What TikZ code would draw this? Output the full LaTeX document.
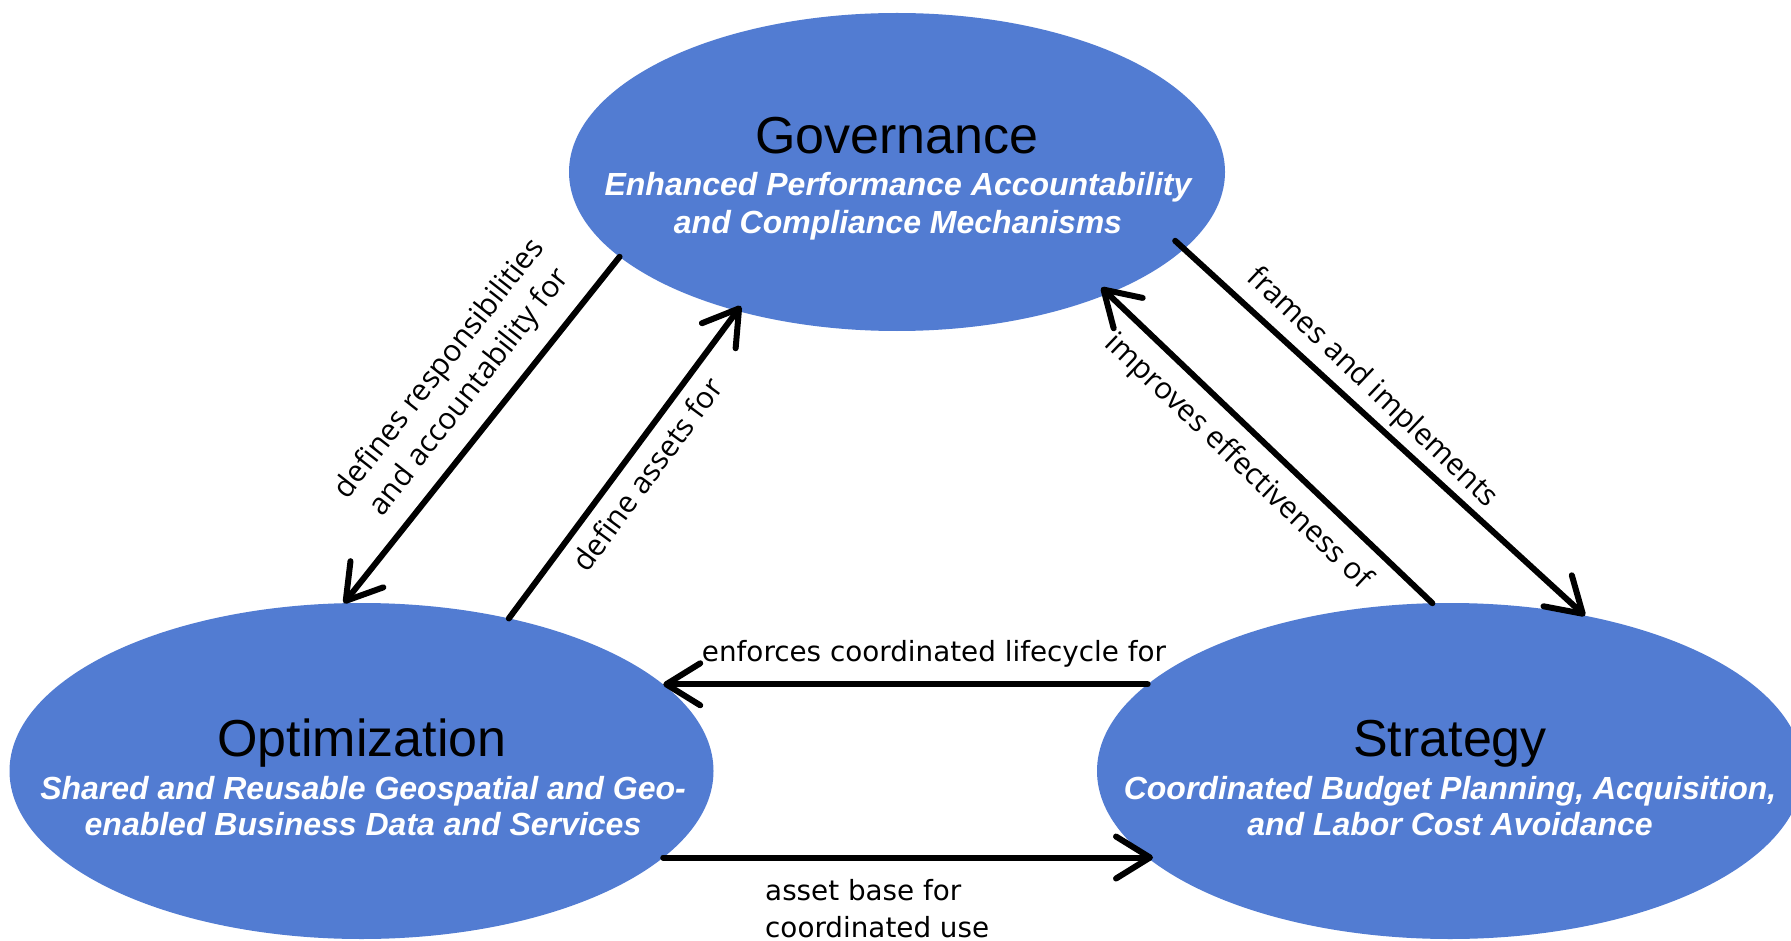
\documentclass[tikz,border=0pt]{standalone}
\usepackage{fontspec}
\setmainfont{Liberation Sans}
\newfontfamily\lblfont{Open Sans}
\newfontfamily\hfont{DejaVu Sans}
\usetikzlibrary{arrows.meta,shapes.geometric,calc}
\definecolor{ellblue}{RGB}{82,124,210}
\begin{document}
\begin{tikzpicture}[x=1pt,y=-1pt,
  ell/.style={ellipse, fill=ellblue, inner sep=0pt, outer sep=0pt},
  ttl/.style={font=\fontsize{52}{52}\selectfont, anchor=base, inner sep=0pt},
  sub/.style={font=\fontsize{32}{38}\selectfont\bfseries\itshape, text=white, anchor=base, inner sep=0pt},
  conn/.style={line width=6pt, line cap=round, -{Straight Barb[length=34pt,width=42pt,line width=6pt,round]}},
  lbl/.style={font=\lblfont\fontsize{30}{38}\selectfont, align=center, inner sep=0pt},
  hlbl/.style={font=\hfont\fontsize{27.8}{35}\selectfont, inner sep=0pt}]
\useasboundingbox (0,0) rectangle (1791,941);
\fill[white] (0,0) rectangle (1791,941);

\node[ell, minimum width=656pt, minimum height=318pt] (gov) at (897,172) {};
\node[ell, minimum width=704pt, minimum height=336pt] (opt) at (361.5,771) {};
\node[ell, minimum width=706pt, minimum height=336pt] (str) at (1450,771) {};

\node[ttl] (govt) at (897,154) {Governance};
\node[sub] (govs1) at (898,196) {Enhanced Performance Accountability};
\node[sub] (govs2) at (898,234) {and Compliance Mechanisms};

\node[ttl] (optt) at (362,756) {Optimization};
\node[sub] (opts1) at (363,799) {Shared and Reusable Geospatial and Geo-};
\node[sub] (opts2) at (363,835) {enabled Business Data and Services};

\node[ttl] (strt) at (1450,756) {Strategy};
\node[sub] (strs1) at (1450,799) {Coordinated Budget Planning, Acquisition,};
\node[sub] (strs2) at (1450,835) {and Labor Cost Avoidance};

\draw[conn] (gov.-163.7) -- (opt.96.3);
\draw[conn, shorten >=-6pt] (opt.46.6) -- (gov.-139.6);
\draw[conn, shorten <=-12pt] (gov.-15.4) -- (str.49.3);
\draw[conn, shorten >=-9pt] (str.96.1) -- (gov.-30.3);
\draw[conn] (str.164.1) -- (str.164.1 -| opt.16.1);
\draw[conn] (opt.-16.1) -- (opt.-16.1 -| str.-163.8);

\node[lbl, rotate=51.9] (l1) at (455,381) {defines responsibilities\\and accountability for};
\node[lbl, rotate=53.6] (l2) at (647,474) {define assets for};
\node[lbl, rotate=-43.5] (l3) at (1372,388) {frames and implements};
\node[lbl, rotate=-43.6] (l4) at (1238,462) {improves effectiveness of};
\node[hlbl, anchor=base] (l5) at (934,661) {enforces coordinated lifecycle for};
\node[hlbl, anchor=base west] (l6a) at (765,900) {asset base for};
\node[hlbl, anchor=base west] (l6b) at (765,937) {coordinated use};
\end{tikzpicture}
\end{document}
